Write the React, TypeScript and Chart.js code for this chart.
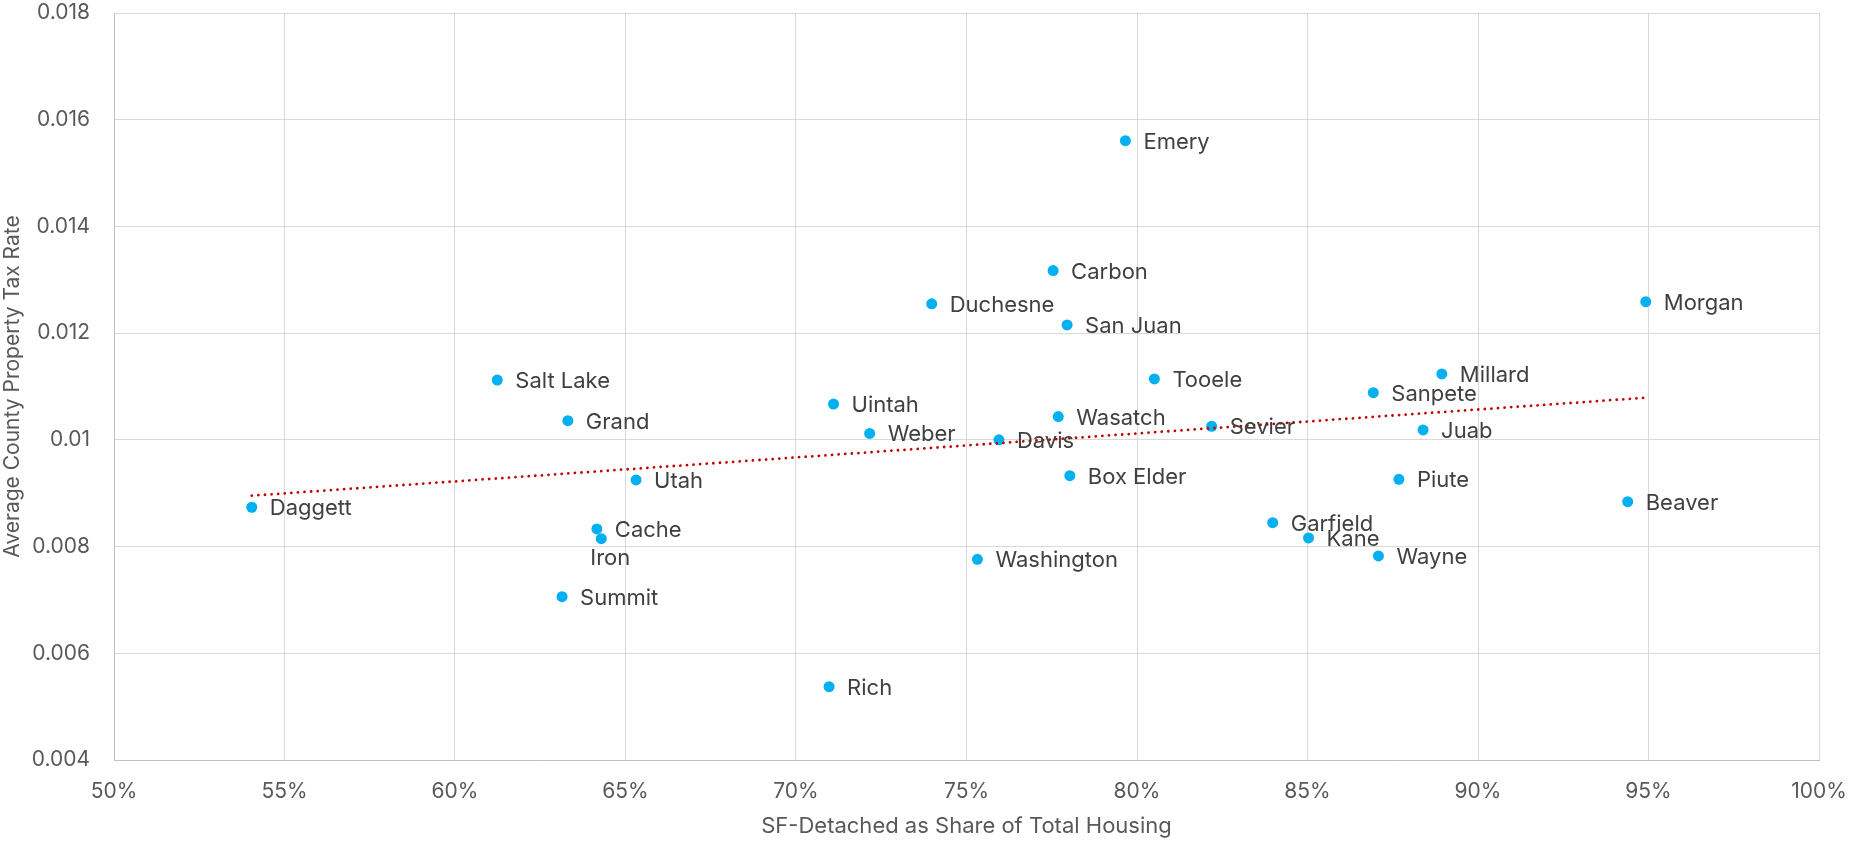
import React, { useEffect, useRef } from "react";
import { Chart, registerables } from "chart.js";

Chart.register(...registerables);

// ---- Data ----
const counties = [
  "Daggett", "Salt Lake", "Grand", "Summit", "Cache", "Iron", "Utah", "Rich",
  "Uintah", "Weber", "Duchesne", "Washington", "Davis", "Carbon", "Wasatch",
  "San Juan", "Box Elder", "Emery", "Tooele", "Sevier", "Garfield", "Kane",
  "Sanpete", "Wayne", "Piute", "Juab", "Millard", "Beaver", "Morgan",
];

const sfDetachedShare = [
  0.5404, 0.6124, 0.6331, 0.6314, 0.6416, 0.6429, 0.6531, 0.7097,
  0.7110, 0.7216, 0.7398, 0.7532, 0.7595, 0.7754, 0.7769,
  0.7795, 0.7803, 0.7966, 0.8051, 0.8219, 0.8398, 0.8503,
  0.8693, 0.8708, 0.8768, 0.8839, 0.8894, 0.9439, 0.9492,
];

const avgTaxRate = [
  0.008737, 0.01112, 0.01036, 0.007061, 0.00833, 0.008148, 0.009248, 0.005374,
  0.01067, 0.01012, 0.01255, 0.007762, 0.01, 0.013172, 0.010436,
  0.012154, 0.009329, 0.015608, 0.011142, 0.010255, 0.008448, 0.008161,
  0.010885, 0.007824, 0.009261, 0.010186, 0.011235, 0.008842, 0.01259,
];

// Linear trendline end points
const trendX = [0.5404, 0.9492];
const trendY = [0.008954, 0.01079];

const xTickLabels = ["50%", "55%", "60%", "65%", "70%", "75%", "80%", "85%", "90%", "95%", "100%"];
const yTickLabels = ["0.004", "0.006", "0.008", "0.01", "0.012", "0.014", "0.016", "0.018"];

const xTitle = "SF-Detached as Share of Total Housing";
const yTitle = "Average County Property Tax Rate";

// ---- Styles ----
const FONT = "Inter, 'Noto Sans', sans-serif";
const labelOffsets: Record<string, { dx: number; dy: number }> = {
  Iron: { dx: -11, dy: 18 },
};

const pointLabelsPlugin = {
  id: "pointLabels",
  afterDatasetsDraw(chart: any) {
    const meta = chart.getDatasetMeta(1);
    const ctx = chart.ctx;
    ctx.save();
    ctx.font = `22px ${FONT}`;
    ctx.fillStyle = "#404040";
    ctx.textAlign = "left";
    ctx.textBaseline = "alphabetic";
    const capHalf = 8;
    meta.data.forEach((el: any, i: number) => {
      const name = counties[i];
      const off = labelOffsets[name] || { dx: 18, dy: 0 };
      ctx.fillText(name, el.x + off.dx, el.y + off.dy + capHalf);
    });
    ctx.restore();
  },
};

export default function App() {
  const canvasRef = useRef<HTMLCanvasElement | null>(null);

  useEffect(() => {
    document.body.style.margin = "0";
    const canvas = canvasRef.current;
    if (!canvas) return;

    const points = sfDetachedShare.map((x, i) => ({ x, y: avgTaxRate[i] }));
    const trend = trendX.map((x, i) => ({ x, y: trendY[i] }));

    const chart = new Chart(canvas, {
      type: "scatter",
      data: {
        datasets: [
          {
            type: "line",
            label: "Trend",
            data: trend,
            borderColor: "#C00000",
            borderWidth: 2.8,
            borderDash: [0.01, 6.6],
            borderCapStyle: "round",
            pointRadius: 0,
            fill: false,
            order: 0,
          } as any,
          {
            label: "Counties",
            data: points,
            backgroundColor: "#00B0F0",
            borderColor: "#00B0F0",
            borderWidth: 0,
            pointRadius: 5.5,
            pointHoverRadius: 5.5,
            order: 1,
          },
        ],
      },
      options: {
        animation: false,
        responsive: true,
        maintainAspectRatio: false,
        layout: { padding: { top: 13, right: 31, left: 0, bottom: 0 } },
        plugins: {
          legend: { display: false },
          tooltip: { enabled: false },
        },
        scales: {
          x: {
            type: "linear",
            min: 0.5,
            max: 1.0,
            afterFit: (scale: any) => {
              scale.height = 81;
              scale.paddingLeft = 0;
              scale.paddingRight = 0;
              scale.paddingTop = 0;
              scale.paddingBottom = 0;
            },
            ticks: {
              stepSize: 0.05,
              padding: 19,
              color: "#595959",
              font: { family: FONT, size: 21, lineHeight: 1.2 },
              callback: (v: any) => {
                const idx = Math.round((Number(v) - 0.5) / 0.05);
                return xTickLabels[idx] ?? "";
              },
            },
            grid: { color: "#D9D9D9", lineWidth: 1, drawTicks: false },
            border: { display: true, color: "#BFBFBF", width: 1 },
            title: {
              display: true,
              text: xTitle,
              color: "#595959",
              font: { family: FONT, size: 22, lineHeight: 1.2 },
              padding: { top: 0, bottom: 1 },
            },
          },
          y: {
            type: "linear",
            min: 0.004,
            max: 0.018,
            afterFit: (scale: any) => {
              scale.width = 114;
              scale.paddingLeft = 0;
              scale.paddingRight = 0;
              scale.paddingTop = 0;
              scale.paddingBottom = 0;
            },
            ticks: {
              stepSize: 0.002,
              padding: 24,
              color: "#595959",
              font: { family: FONT, size: 21, lineHeight: 1.2 },
              callback: (v: any) => {
                const idx = Math.round((Number(v) - 0.004) / 0.002);
                return yTickLabels[idx] ?? "";
              },
            },
            grid: { color: "#D9D9D9", lineWidth: 1, drawTicks: false },
            border: { display: true, color: "#BFBFBF", width: 1 },
            title: {
              display: true,
              text: yTitle,
              color: "#595959",
              font: { family: FONT, size: 21, lineHeight: 1.2 },
              padding: { top: 0, bottom: 0 },
            },
          },
        },
      } as any,
      plugins: [pointLabelsPlugin],
    });

    return () => chart.destroy();
  }, []);

  return (
    <div style={{ width: "1850px", height: "841px", position: "relative" }}>
      <canvas ref={canvasRef} />
    </div>
  );
}
